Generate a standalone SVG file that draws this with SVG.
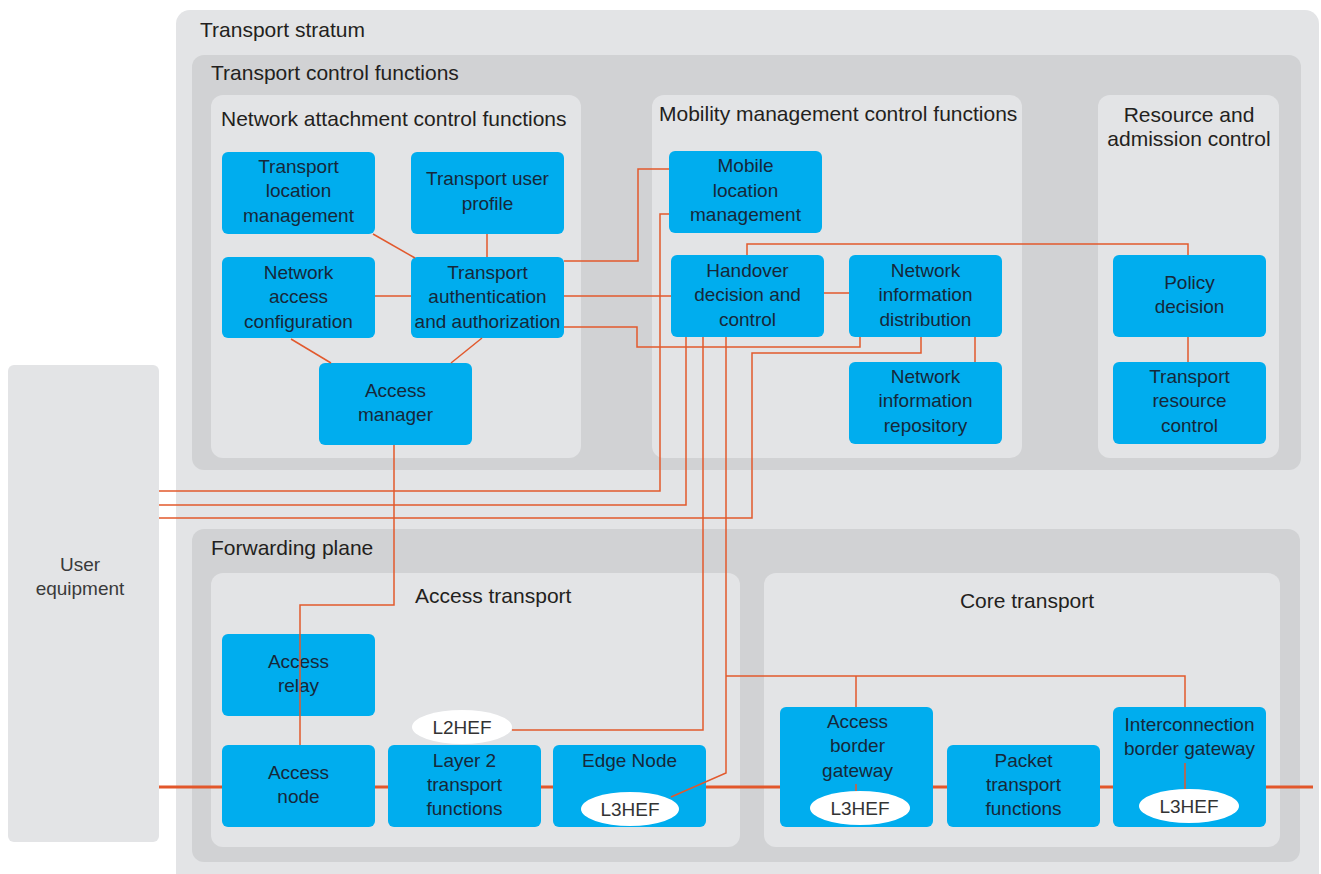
<svg xmlns="http://www.w3.org/2000/svg" width="1321" height="874" viewBox="0 0 1321 874">
  <style>
    .light { fill: #e3e4e6; }
    .mid { fill: #d1d2d4; }
    .box { fill: #00adee; }
    .oval { fill: #ffffff; }
    .title { font-family: "Liberation Sans", Arial, sans-serif; font-size: 21px; fill: #231f20; }
    .ctr { text-anchor: middle; }
    .label { font-family: "Liberation Sans", Arial, sans-serif; font-size: 19px; fill: #16283a; text-anchor: middle; }
    .tag { font-family: "Liberation Sans", Arial, sans-serif; font-size: 19px; fill: #333333; text-anchor: middle; }
    .ue { font-family: "Liberation Sans", Arial, sans-serif; font-size: 19px; fill: #3a3a3a; text-anchor: middle; }
    .wire { fill: none; stroke: #e2592d; stroke-width: 1.5; }
    .bus { fill: none; stroke: #e2572b; stroke-width: 3; }
  </style>

  <rect width="1321" height="874" fill="#ffffff"/>

  <!-- containers -->
  <g id="user-equipment">
    <rect class="light" x="8" y="365" width="151" height="477" rx="6"/>
    <text class="ue" x="80" y="571">User</text>
    <text class="ue" x="80" y="595">equipment</text>
  </g>

  <g id="transport-stratum">
    <rect class="light" x="176" y="10" width="1143" height="880" rx="14"/>
    <text class="title" x="200" y="37">Transport stratum</text>
  </g>

  <g id="transport-control-functions">
    <rect class="mid" x="192" y="55" width="1109" height="415" rx="12"/>
    <text class="title" x="211" y="80">Transport control functions</text>
  </g>

  <g id="network-attachment-control">
    <rect class="light" x="211" y="95" width="370" height="363" rx="12"/>
    <text class="title" x="221" y="126">Network attachment control functions</text>
  </g>

  <g id="mobility-management-control">
    <rect class="light" x="652" y="95" width="370" height="363" rx="12"/>
    <text class="title" x="659" y="121">Mobility management control functions</text>
  </g>

  <g id="resource-admission-control">
    <rect class="light" x="1098" y="95" width="181" height="363" rx="12"/>
    <text class="title ctr" x="1189" y="122">Resource and</text>
    <text class="title ctr" x="1189" y="146">admission control</text>
  </g>

  <g id="forwarding-plane">
    <rect class="mid" x="192" y="529" width="1108" height="333" rx="12"/>
    <text class="title" x="211" y="555">Forwarding plane</text>
  </g>

  <g id="access-transport">
    <rect class="light" x="211" y="573" width="529" height="274" rx="12"/>
    <text class="title" x="415" y="603">Access transport</text>
  </g>

  <g id="core-transport">
    <rect class="light" x="764" y="573" width="516" height="274" rx="12"/>
    <text class="title ctr" x="1027" y="608">Core transport</text>
  </g>

  <!-- transport bus behind the forwarding nodes -->
  <g id="bus">
    <path class="bus" d="M159,787 H1313"/>
  </g>

  <!-- control nodes -->
  <g id="transport-location-management">
    <rect class="box" x="222" y="152" width="153" height="82" rx="6"/>
    <text class="label" x="298.5" y="173">Transport</text>
    <text class="label" x="298.5" y="197">location</text>
    <text class="label" x="298.5" y="222">management</text>
  </g>

  <g id="transport-user-profile">
    <rect class="box" x="411" y="152" width="153" height="82" rx="6"/>
    <text class="label" x="487.5" y="185">Transport user</text>
    <text class="label" x="487.5" y="210">profile</text>
  </g>

  <g id="network-access-configuration">
    <rect class="box" x="222" y="257" width="153" height="81" rx="6"/>
    <text class="label" x="298.5" y="279">Network</text>
    <text class="label" x="298.5" y="303">access</text>
    <text class="label" x="298.5" y="328">configuration</text>
  </g>

  <g id="transport-authentication">
    <rect class="box" x="411" y="257" width="153" height="81" rx="6"/>
    <text class="label" x="487.5" y="279">Transport</text>
    <text class="label" x="487.5" y="303">authentication</text>
    <text class="label" x="487.5" y="328">and authorization</text>
  </g>

  <g id="access-manager">
    <rect class="box" x="319" y="363" width="153" height="82" rx="6"/>
    <text class="label" x="395.5" y="397">Access</text>
    <text class="label" x="395.5" y="421">manager</text>
  </g>

  <g id="mobile-location-management">
    <rect class="box" x="669" y="151" width="153" height="82" rx="6"/>
    <text class="label" x="745.5" y="172">Mobile</text>
    <text class="label" x="745.5" y="197">location</text>
    <text class="label" x="745.5" y="221">management</text>
  </g>

  <g id="handover-decision">
    <rect class="box" x="671" y="255" width="153" height="82" rx="6"/>
    <text class="label" x="747.5" y="277">Handover</text>
    <text class="label" x="747.5" y="301">decision and</text>
    <text class="label" x="747.5" y="326">control</text>
  </g>

  <g id="network-information-distribution">
    <rect class="box" x="849" y="255" width="153" height="82" rx="6"/>
    <text class="label" x="925.5" y="277">Network</text>
    <text class="label" x="925.5" y="301">information</text>
    <text class="label" x="925.5" y="326">distribution</text>
  </g>

  <g id="network-information-repository">
    <rect class="box" x="849" y="362" width="153" height="82" rx="6"/>
    <text class="label" x="925.5" y="383">Network</text>
    <text class="label" x="925.5" y="407">information</text>
    <text class="label" x="925.5" y="432">repository</text>
  </g>

  <g id="policy-decision">
    <rect class="box" x="1113" y="255" width="153" height="82" rx="6"/>
    <text class="label" x="1189.5" y="289">Policy</text>
    <text class="label" x="1189.5" y="313">decision</text>
  </g>

  <g id="transport-resource-control">
    <rect class="box" x="1113" y="362" width="153" height="82" rx="6"/>
    <text class="label" x="1189.5" y="383">Transport</text>
    <text class="label" x="1189.5" y="407">resource</text>
    <text class="label" x="1189.5" y="432">control</text>
  </g>

  <!-- forwarding nodes -->
  <g id="access-relay">
    <rect class="box" x="222" y="634" width="153" height="82" rx="6"/>
    <text class="label" x="298.5" y="668">Access</text>
    <text class="label" x="298.5" y="692">relay</text>
  </g>

  <g id="access-node">
    <rect class="box" x="222" y="745" width="153" height="82" rx="6"/>
    <text class="label" x="298.5" y="779">Access</text>
    <text class="label" x="298.5" y="803">node</text>
  </g>

  <g id="layer2-transport">
    <rect class="box" x="388" y="745" width="153" height="82" rx="6"/>
    <text class="label" x="464.5" y="767">Layer 2</text>
    <text class="label" x="464.5" y="791">transport</text>
    <text class="label" x="464.5" y="815">functions</text>
  </g>

  <g id="l2hef">
    <ellipse class="oval" cx="462" cy="727" rx="50" ry="17"/>
    <text class="tag" x="462" y="734">L2HEF</text>
  </g>

  <g id="edge-node">
    <rect class="box" x="553" y="745" width="153" height="82" rx="6"/>
    <text class="label" x="629.5" y="767">Edge Node</text>
    <ellipse class="oval" cx="630" cy="809" rx="49" ry="17"/>
    <text class="tag" x="630" y="816">L3HEF</text>
  </g>

  <g id="access-border-gateway">
    <rect class="box" x="780" y="707" width="153" height="120" rx="6"/>
    <text class="label" x="857.5" y="728">Access</text>
    <text class="label" x="857.5" y="752">border</text>
    <text class="label" x="857.5" y="777">gateway</text>
    <ellipse class="oval" cx="860" cy="808" rx="50" ry="17"/>
    <text class="tag" x="860" y="815">L3HEF</text>
  </g>

  <g id="packet-transport">
    <rect class="box" x="947" y="745" width="153" height="82" rx="6"/>
    <text class="label" x="1023.5" y="767">Packet</text>
    <text class="label" x="1023.5" y="791">transport</text>
    <text class="label" x="1023.5" y="815">functions</text>
  </g>

  <g id="interconnection-border-gateway">
    <rect class="box" x="1113" y="707" width="153" height="120" rx="6"/>
    <text class="label" x="1189.5" y="731">Interconnection</text>
    <text class="label" x="1189.5" y="755">border gateway</text>
    <ellipse class="oval" cx="1189" cy="806" rx="50" ry="17"/>
    <text class="tag" x="1189" y="813">L3HEF</text>
  </g>

  <!-- control links -->
  <g id="connectors">
    <path class="wire" d="M373,234 L415,258"/>
    <path class="wire" d="M487,234 V257"/>
    <path class="wire" d="M375,296 H411"/>
    <path class="wire" d="M291,339 L331,363"/>
    <path class="wire" d="M482,338 L451,363"/>
    <path class="wire" d="M564,261 H638 V169 H669"/>
    <path class="wire" d="M564,296 H671"/>
    <path class="wire" d="M564,327 H637 V347 H860 V337"/>
    <path class="wire" d="M824,293 H849"/>
    <path class="wire" d="M975,337 V362"/>
    <path class="wire" d="M747,255 V244 H1188 V255"/>
    <path class="wire" d="M1188,337 V362"/>
    <path class="wire" d="M669,214 H660 V491 H159"/>
    <path class="wire" d="M686,337 V505 H159"/>
    <path class="wire" d="M921,337 V353 H752 V518 H159"/>
    <path class="wire" d="M703,337 V730 H512"/>
    <path class="wire" d="M726,337 V773 L671,797"/>
    <path class="wire" d="M726,676 H1185 V707"/>
    <path class="wire" d="M856,676 V707"/>
    <path class="wire" d="M856,784 V791"/>
    <path class="wire" d="M1185,763 V789"/>
    <path class="wire" d="M394,445 V605 H300 V745"/>
  </g>
</svg>
